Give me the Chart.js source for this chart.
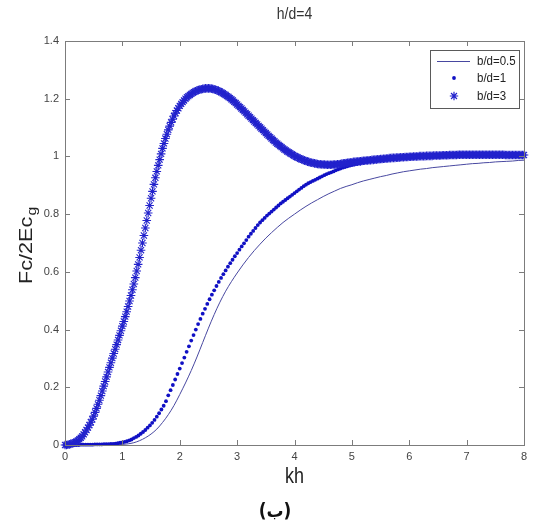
<!DOCTYPE html>
<html>
<head>
<meta charset="utf-8">
<script src="https://cdn.jsdelivr.net/npm/chart.js@4.4.1/dist/chart.umd.min.js"></script>
<style>
  html, body { margin: 0; padding: 0; background: #ffffff; }
  #wrap { position: relative; width: 540px; height: 525px; }
</style>
</head>
<body>
<div id="wrap"><canvas id="c" width="540" height="525"></canvas></div>
<script>
// ---- texts ----
const chartTitle = 'h/d=4';
const xTitle = 'kh';
const yTitleMain = 'Fc/2Ec';
const yTitleSub = 'g';
const caption = '(ب)';
const seriesNames = ['b/d=0.5', 'b/d=1', 'b/d=3'];

// ---- tick labels ----
const xTicks = ['0', '1', '2', '3', '4', '5', '6', '7', '8'];
const yTicks = ['0', '0.2', '0.4', '0.6', '0.8', '1', '1.2', '1.4'];

// ---- sampling of kh for each series ----
const lineStep = 0.1;   // b/d=0.5
const dotStep = 0.04;   // b/d=1
const starStep = 0.025; // b/d=3

// Fc/2Ec_g for b/d=0.5, kh = 0 .. 8
const fcLine = [
  0.000, 0.000, 0.000, 0.000, 0.000, 0.000, 0.000, 0.001, 0.001, 0.001,
  0.002, 0.004, 0.008, 0.015, 0.025, 0.038, 0.055, 0.078, 0.105, 0.137,
  0.175, 0.215, 0.258, 0.305, 0.355, 0.405, 0.452, 0.495, 0.533, 0.566,
  0.596, 0.624, 0.650, 0.674, 0.696, 0.717, 0.736, 0.754, 0.771, 0.786,
  0.800, 0.814, 0.827, 0.839, 0.850, 0.861, 0.871, 0.880, 0.889, 0.896,
  0.902, 0.909, 0.915, 0.920, 0.925, 0.930, 0.934, 0.939, 0.943, 0.947,
  0.950, 0.953, 0.956, 0.958, 0.961, 0.963, 0.965, 0.967, 0.969, 0.971,
  0.973, 0.975, 0.976, 0.978, 0.979, 0.981, 0.982, 0.983, 0.984, 0.986,
  0.987
];

// Fc/2Ec_g for b/d=1
const fcDots = [
  0.000, 0.000, 0.000, 0.000, 0.000,
  0.000, 0.000, 0.001, 0.001, 0.001,
  0.001, 0.001, 0.001, 0.002, 0.002,
  0.002, 0.002, 0.003, 0.003, 0.003,
  0.004, 0.004, 0.005, 0.006, 0.008,
  0.009, 0.011, 0.013, 0.016, 0.019,
  0.024, 0.028, 0.033, 0.039, 0.045,
  0.052, 0.060, 0.068, 0.077, 0.087,
  0.098, 0.110, 0.123, 0.136, 0.152,
  0.172, 0.190, 0.208, 0.227, 0.246,
  0.265, 0.284, 0.303, 0.323, 0.342,
  0.362, 0.381, 0.400, 0.419, 0.437,
  0.455, 0.472, 0.489, 0.505, 0.521,
  0.536, 0.551, 0.565, 0.579, 0.592,
  0.605, 0.618, 0.630, 0.642, 0.654,
  0.665, 0.677, 0.688, 0.699, 0.710,
  0.722, 0.732, 0.742, 0.752, 0.762,
  0.771, 0.779, 0.787, 0.795, 0.802,
  0.809, 0.816, 0.823, 0.830, 0.837,
  0.843, 0.849, 0.855, 0.861, 0.867,
  0.873, 0.879, 0.885, 0.891, 0.897,
  0.902, 0.907, 0.911, 0.915, 0.919,
  0.923, 0.927, 0.931, 0.935, 0.939,
  0.942, 0.945, 0.948, 0.952, 0.955,
  0.958, 0.961, 0.963, 0.966, 0.968,
  0.970, 0.972, 0.974, 0.976, 0.978,
  0.979, 0.981, 0.982, 0.983, 0.985,
  0.986, 0.987, 0.988, 0.989, 0.990,
  0.991, 0.992, 0.993, 0.993, 0.994,
  0.995, 0.996, 0.996, 0.997, 0.997,
  0.998, 0.998, 0.999, 0.999, 0.999,
  1.000, 1.000, 1.000, 1.001, 1.001,
  1.001, 1.002, 1.002, 1.002, 1.002,
  1.002, 1.003, 1.003, 1.003, 1.003,
  1.003, 1.003, 1.004, 1.004, 1.004,
  1.004, 1.004, 1.004, 1.004, 1.004,
  1.004, 1.004, 1.004, 1.004, 1.004,
  1.004, 1.004, 1.004, 1.004, 1.004,
  1.004, 1.004, 1.004, 1.004, 1.004,
  1.004, 1.004, 1.004, 1.004, 1.004,
  1.004
];

// Fc/2Ec_g for b/d=3
const fcStars = [
  0.000, 0.000, 0.001, 0.002, 0.004, 0.005, 0.007, 0.009,
  0.012, 0.016, 0.020, 0.025, 0.030, 0.037, 0.044, 0.052,
  0.060, 0.069, 0.079, 0.089, 0.100, 0.113, 0.127, 0.141,
  0.155, 0.171, 0.187, 0.204, 0.220, 0.236, 0.253, 0.269,
  0.285, 0.301, 0.317, 0.332, 0.348, 0.364, 0.380, 0.396,
  0.412, 0.428, 0.445, 0.462, 0.480, 0.499, 0.518, 0.538,
  0.558, 0.580, 0.603, 0.626, 0.650, 0.675, 0.700, 0.726,
  0.752, 0.778, 0.804, 0.830, 0.855, 0.879, 0.903, 0.926,
  0.948, 0.969, 0.989, 1.009, 1.028, 1.045, 1.062, 1.077,
  1.092, 1.105, 1.118, 1.129, 1.140, 1.150, 1.159, 1.167,
  1.175, 1.182, 1.188, 1.194, 1.200, 1.205, 1.209, 1.213,
  1.217, 1.220, 1.223, 1.226, 1.228, 1.230, 1.232, 1.233,
  1.234, 1.235, 1.236, 1.236, 1.236, 1.236, 1.235, 1.234,
  1.233, 1.231, 1.229, 1.227, 1.225, 1.222, 1.219, 1.216,
  1.213, 1.209, 1.206, 1.202, 1.198, 1.194, 1.189, 1.185,
  1.180, 1.175, 1.171, 1.166, 1.161, 1.156, 1.151, 1.146,
  1.141, 1.136, 1.131, 1.126, 1.121, 1.116, 1.111, 1.106,
  1.101, 1.096, 1.091, 1.086, 1.081, 1.076, 1.071, 1.067,
  1.062, 1.057, 1.053, 1.048, 1.044, 1.040, 1.036, 1.032,
  1.028, 1.024, 1.021, 1.017, 1.014, 1.011, 1.008, 1.005,
  1.002, 0.999, 0.997, 0.994, 0.992, 0.990, 0.988, 0.986,
  0.984, 0.982, 0.981, 0.979, 0.978, 0.977, 0.976, 0.975,
  0.974, 0.973, 0.973, 0.972, 0.972, 0.972, 0.971, 0.971,
  0.971, 0.971, 0.971, 0.972, 0.972, 0.972, 0.973, 0.973,
  0.974, 0.975, 0.976, 0.976, 0.977, 0.978, 0.979, 0.979,
  0.980, 0.981, 0.981, 0.982, 0.982, 0.983, 0.983, 0.984,
  0.985, 0.985, 0.986, 0.986, 0.987, 0.987, 0.988, 0.988,
  0.989, 0.989, 0.990, 0.990, 0.991, 0.991, 0.992, 0.992,
  0.993, 0.993, 0.994, 0.994, 0.995, 0.995, 0.995, 0.996,
  0.996, 0.996, 0.997, 0.997, 0.997, 0.998, 0.998, 0.998,
  0.999, 0.999, 0.999, 1.000, 1.000, 1.000, 1.000, 1.001,
  1.001, 1.001, 1.001, 1.001, 1.002, 1.002, 1.002, 1.002,
  1.002, 1.003, 1.003, 1.003, 1.003, 1.003, 1.003, 1.004,
  1.004, 1.004, 1.004, 1.004, 1.005, 1.005, 1.005, 1.005,
  1.005, 1.005, 1.006, 1.006, 1.006, 1.006, 1.006, 1.006,
  1.006, 1.006, 1.006, 1.006, 1.006, 1.006, 1.006, 1.006,
  1.006, 1.006, 1.006, 1.006, 1.006, 1.006, 1.006, 1.006,
  1.006, 1.006, 1.006, 1.006, 1.006, 1.006, 1.006, 1.006,
  1.006, 1.006, 1.006, 1.005, 1.005, 1.005, 1.005, 1.005,
  1.005, 1.005, 1.005, 1.005, 1.005, 1.005, 1.005, 1.005,
  1.005
];

// ---- styling ----
const FONT = "'Liberation Sans', Arial, Helvetica, sans-serif";
const lineColor = '#4848a0';
const dotColor = '#1010c4';
const starColor = '#2222cc';
const axisColor = '#7c7c7c';

function toPoints(values, step) {
  return values.map((v, i) => ({ x: Math.round(i * step * 1000) / 1000, y: v }));
}

// text helper: draws text with a slight vertical stretch
function stretchedText(ctx, text, x, y, font, color, align, sy) {
  ctx.save();
  ctx.translate(x, y);
  ctx.scale(1, sy);
  ctx.font = font;
  ctx.fillStyle = color;
  ctx.textAlign = align;
  ctx.textBaseline = 'middle';
  ctx.fillText(text, 0, 0);
  ctx.restore();
}

function drawStar(ctx, x, y, r, color) {
  ctx.save();
  ctx.strokeStyle = color;
  ctx.lineWidth = 1.2;
  ctx.beginPath();
  ctx.moveTo(x - r, y); ctx.lineTo(x + r, y);
  ctx.moveTo(x, y - r); ctx.lineTo(x, y + r);
  const d = r * 0.7071;
  ctx.moveTo(x - d, y - d); ctx.lineTo(x + d, y + d);
  ctx.moveTo(x - d, y + d); ctx.lineTo(x + d, y - d);
  ctx.stroke();
  ctx.restore();
}

// axes box with inward ticks on all four sides, titles and legend
const boxPlugin = {
  id: 'boxPlugin',
  afterDraw(chart) {
    const { ctx, chartArea: a, scales } = chart;
    const xs = scales.x, ys = scales.y;
    const tl = 5;
    ctx.save();
    ctx.strokeStyle = axisColor;
    ctx.lineWidth = 1;
    ctx.strokeRect(Math.round(a.left) + 0.5, Math.round(a.top) + 0.5,
                   Math.round(a.right - a.left), Math.round(a.bottom - a.top));
    ctx.beginPath();
    xTicks.forEach((t, i) => {
      const px = Math.round(xs.getPixelForValue(i)) + 0.5;
      ctx.moveTo(px, a.bottom); ctx.lineTo(px, a.bottom - tl);
      ctx.moveTo(px, a.top); ctx.lineTo(px, a.top + tl);
    });
    yTicks.forEach((t, i) => {
      const py = Math.round(ys.getPixelForValue(i * 0.2)) + 0.5;
      ctx.moveTo(a.left, py); ctx.lineTo(a.left + tl, py);
      ctx.moveTo(a.right, py); ctx.lineTo(a.right - tl, py);
    });
    ctx.stroke();
    ctx.restore();

    // titles
    const cx = (a.left + a.right) / 2;
    stretchedText(ctx, chartTitle, cx, 15, `14px ${FONT}`, '#333333', 'center', 1.15);
    stretchedText(ctx, xTitle, cx, 477, `18px ${FONT}`, '#222222', 'center', 1.2);
    stretchedText(ctx, caption, 275, 512, `bold 17px 'DejaVu Sans', sans-serif`, '#111111', 'center', 1.1);

    // y title, rotated, with subscript
    ctx.save();
    ctx.translate(26, 246);
    ctx.rotate(-Math.PI / 2);
    ctx.scale(1.2, 1);
    ctx.fillStyle = '#222222';
    ctx.textBaseline = 'alphabetic';
    ctx.font = `18px ${FONT}`;
    const wMain = ctx.measureText(yTitleMain).width;
    ctx.font = `13px ${FONT}`;
    const wSub = ctx.measureText(yTitleSub).width;
    const start = -(wMain + wSub) / 2;
    ctx.font = `18px ${FONT}`;
    ctx.textAlign = 'left';
    ctx.fillText(yTitleMain, start, 6);
    ctx.font = `13px ${FONT}`;
    ctx.fillText(yTitleSub, start + wMain + 1, 10);
    ctx.restore();

    // legend
    const lx = 430.5, ly = 50.5, lw = 89, lh = 58;
    ctx.save();
    ctx.fillStyle = '#ffffff';
    ctx.fillRect(lx, ly, lw, lh);
    ctx.strokeStyle = '#5a5a5a';
    ctx.lineWidth = 1;
    ctx.strokeRect(lx, ly, lw, lh);
    const rows = [61, 78, 96];
    ctx.strokeStyle = lineColor;
    ctx.beginPath();
    ctx.moveTo(437, rows[0] + 0.5); ctx.lineTo(470, rows[0] + 0.5);
    ctx.stroke();
    ctx.fillStyle = dotColor;
    ctx.beginPath();
    ctx.arc(454, rows[1], 1.9, 0, Math.PI * 2);
    ctx.fill();
    drawStar(ctx, 454, rows[2], 4.2, starColor);
    ctx.restore();
    seriesNames.forEach((n, i) => {
      stretchedText(ctx, n, 477, rows[i], `11.5px ${FONT}`, '#222222', 'left', 1.15);
    });
  }
};

new Chart(document.getElementById('c'), {
  type: 'scatter',
  data: {
    datasets: [
      {
        label: seriesNames[0],
        data: toPoints(fcLine, lineStep),
        showLine: true,
        borderColor: lineColor,
        borderWidth: 1,
        pointRadius: 0,
        cubicInterpolationMode: 'monotone',
        clip: false,
        order: 2
      },
      {
        label: seriesNames[1],
        data: toPoints(fcDots, dotStep),
        showLine: false,
        pointStyle: 'circle',
        pointRadius: 1.9,
        pointBackgroundColor: dotColor,
        pointBorderWidth: 0,
        clip: false,
        order: 1
      },
      {
        label: seriesNames[2],
        data: toPoints(fcStars, starStep),
        showLine: false,
        pointStyle: 'star',
        pointRadius: 4.3,
        pointBorderColor: starColor,
        pointBackgroundColor: starColor,
        pointBorderWidth: 1.1,
        clip: false,
        order: 0
      }
    ]
  },
  options: {
    responsive: false,
    animation: false,
    events: [],
    layout: { padding: { left: 0, right: 16, top: 41, bottom: 60 } },
    plugins: {
      legend: { display: false },
      tooltip: { enabled: false },
      title: { display: false }
    },
    scales: {
      x: {
        type: 'linear',
        min: 0, max: 8,
        ticks: {
          stepSize: 1,
          padding: 5,
          color: '#444444',
          font: { family: FONT, size: 11 },
          callback: (v, i) => xTicks[i]
        },
        grid: { display: false, drawTicks: false },
        border: { display: true, color: axisColor },
        afterFit(s) { s.height = 20; }
      },
      y: {
        type: 'linear',
        min: 0, max: 1.4,
        ticks: {
          stepSize: 0.2,
          padding: 6,
          color: '#444444',
          font: { family: FONT, size: 11 },
          callback: (v, i) => yTicks[i]
        },
        grid: { display: false, drawTicks: false },
        border: { display: true, color: axisColor },
        afterFit(s) { s.width = 65; }
      }
    }
  },
  plugins: [boxPlugin]
});
</script>
</body>
</html>
